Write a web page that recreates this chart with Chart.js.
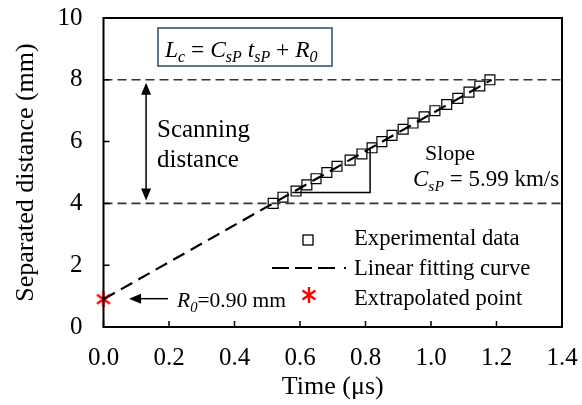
<!DOCTYPE html>
<html>
<head>
<meta charset="utf-8">
<script src="https://cdn.jsdelivr.net/npm/chart.js@4.4.1/dist/chart.umd.min.js"></script>
<style>
  html, body { margin: 0; padding: 0; background: #fff; }
  #wrap { width: 582px; height: 405px; }
</style>
</head>
<body>
<div id="wrap"><canvas id="c" width="582" height="405"></canvas></div>
<script>
// experimental points (time in us, distance in mm)
const expTime = [0.518, 0.548, 0.588, 0.621, 0.649, 0.682, 0.713, 0.753, 0.789, 0.820, 0.850,
                 0.881, 0.915, 0.945, 0.979, 1.012, 1.048, 1.082, 1.116, 1.149, 1.180];
const expDist = [4.0, 4.2, 4.4, 4.6, 4.8, 5.0, 5.2, 5.4, 5.6, 5.8, 6.0,
                 6.2, 6.4, 6.6, 6.8, 7.0, 7.2, 7.4, 7.6, 7.8, 8.0];
// linear fit end points
const fitTime = [0, 1.185];
const fitDist = [0.9, 8.0];
// extrapolated point R0
const extraTime = [0];
const extraDist = [0.9];
// scanning window limits
const scanLimits = [4, 8];
// slope triangle
const triTime = [0.576, 0.814, 0.814];
const triDist = [4.35, 4.35, 5.78];
const xTicks = [0, 0.2, 0.4, 0.6, 0.8, 1.0, 1.2, 1.4];
const yTicks = [0, 2, 4, 6, 8, 10];

const SERIF = '"Liberation Serif", "Times New Roman", serif';

// red asterisk marker
function makeAsterisk() {
  const cv = document.createElement('canvas');
  cv.width = 18; cv.height = 18;
  const g = cv.getContext('2d');
  g.strokeStyle = '#ff0000';
  g.lineWidth = 2.4;
  g.beginPath();
  g.moveTo(9, 1); g.lineTo(9, 17);
  g.moveTo(2.5, 4.5); g.lineTo(15.5, 13.5);
  g.moveTo(15.5, 4.5); g.lineTo(2.5, 13.5);
  g.stroke();
  return cv;
}

function richText(ctx, x, y, parts, size) {
  let cx = x;
  parts.forEach(p => {
    const s = p.sub ? size * 0.68 : size;
    ctx.font = (p.i ? 'italic ' : '') + s + 'px ' + SERIF;
    ctx.fillText(p.t, cx, y + (p.sub ? size * 0.22 : 0));
    cx += ctx.measureText(p.t).width;
  });
}

function arrowHead(ctx, x, y, dir, len, half) {
  ctx.beginPath();
  ctx.moveTo(x, y);
  if (dir === 'up') { ctx.lineTo(x - half, y + len); ctx.lineTo(x + half, y + len); }
  if (dir === 'down') { ctx.lineTo(x - half, y - len); ctx.lineTo(x + half, y - len); }
  if (dir === 'left') { ctx.lineTo(x + len, y - half); ctx.lineTo(x + len, y + half); }
  ctx.closePath();
  ctx.fill();
}

const decor = {
  id: 'decor',
  afterDatasetsDraw(chart) {
    const { ctx, chartArea: a, scales: { x, y } } = chart;
    ctx.save();
    // frame
    ctx.strokeStyle = '#000';
    ctx.lineWidth = 2;
    ctx.strokeRect(a.left, a.top, a.right - a.left, a.bottom - a.top);
    // inward ticks
    ctx.lineWidth = 1.5;
    ctx.beginPath();
    xTicks.forEach(v => {
      const px = x.getPixelForValue(v);
      ctx.moveTo(px, a.bottom); ctx.lineTo(px, a.bottom - 6);
    });
    yTicks.forEach(v => {
      const py = y.getPixelForValue(v);
      ctx.moveTo(a.left, py); ctx.lineTo(a.left + 6, py);
    });
    ctx.stroke();

    ctx.fillStyle = '#000';
    ctx.strokeStyle = '#000';
    // scanning distance arrow
    const sx = x.getPixelForValue(0.13);
    const sTop = y.getPixelForValue(scanLimits[1]) + 3;
    const sBot = y.getPixelForValue(scanLimits[0]) - 3;
    ctx.lineWidth = 1.5;
    ctx.beginPath();
    ctx.moveTo(sx, sTop + 10); ctx.lineTo(sx, sBot - 10);
    ctx.stroke();
    arrowHead(ctx, sx, sTop, 'up', 12, 5);
    arrowHead(ctx, sx, sBot, 'down', 12, 5);

    // R0 arrow
    const ay = y.getPixelForValue(0.9) - 0.5;
    const ax0 = x.getPixelForValue(0.078);
    const ax1 = x.getPixelForValue(0.197);
    ctx.beginPath();
    ctx.moveTo(ax0 + 10, ay); ctx.lineTo(ax1, ay);
    ctx.stroke();
    arrowHead(ctx, ax0, ay, 'left', 12, 5);

    // texts
    ctx.textBaseline = 'alphabetic';
    ctx.textAlign = 'left';
    ctx.font = '25px ' + SERIF;
    ctx.fillText('Scanning', 157, 137);
    ctx.fillText('distance', 157, 167);
    ctx.font = '22px ' + SERIF;
    ctx.fillText('Slope', 425, 160);
    richText(ctx, 413, 186, [
      { t: 'C', i: true }, { t: 'sP', i: true, sub: true }, { t: ' = 5.99 km/s' }
    ], 23);
    richText(ctx, 177, 307, [
      { t: 'R', i: true }, { t: '0', i: true, sub: true }, { t: '=0.90' }, { t: ' mm' }
    ], 21.5);

    // formula box
    ctx.strokeStyle = '#2f4677';
    ctx.lineWidth = 1.5;
    ctx.strokeRect(158, 28, 174, 38);
    ctx.fillStyle = '#000';
    richText(ctx, 165, 57, [
      { t: 'L', i: true }, { t: 'c', i: true, sub: true }, { t: ' = ' },
      { t: 'C', i: true }, { t: 'sP', i: true, sub: true }, { t: ' ' },
      { t: 't', i: true }, { t: 'sP', i: true, sub: true }, { t: ' + ' },
      { t: 'R', i: true }, { t: '0', i: true, sub: true }
    ], 23.5);

    // legend
    ctx.font = '22.7px ' + SERIF;
    ctx.fillStyle = '#000';
    ctx.fillText('Experimental data', 354, 245);
    ctx.fillText('Linear fitting curve', 354, 275);
    ctx.fillText('Extrapolated point', 354, 305);
    ctx.strokeStyle = '#000';
    ctx.lineWidth = 1.3;
    ctx.fillStyle = '#fff';
    ctx.fillRect(303, 235, 10, 10);
    ctx.strokeRect(303, 235, 10, 10);
    ctx.lineWidth = 2;
    ctx.setLineDash([17, 6]);
    ctx.beginPath();
    ctx.moveTo(272, 268); ctx.lineTo(339, 268);
    ctx.stroke();
    ctx.setLineDash([]);
    ctx.fillStyle = '#000';
    ctx.fillRect(344, 267, 2, 2);
    ctx.drawImage(makeAsterisk(), 300, 286);
    ctx.restore();
  }
};

const hLine = v => [{ x: 0, y: v }, { x: 1.4, y: v }];
const noPad = s => { s.paddingTop = 0; s.paddingBottom = 0; s.paddingLeft = 0; s.paddingRight = 0; };

new Chart(document.getElementById('c'), {
  type: 'scatter',
  data: {
    datasets: [
      {
        label: 'Scan bottom',
        type: 'line',
        data: hLine(scanLimits[0]),
        borderColor: '#333',
        borderWidth: 1.6,
        borderDash: [9, 5],
        pointRadius: 0
      },
      {
        label: 'Scan top',
        type: 'line',
        data: hLine(scanLimits[1]),
        borderColor: '#333',
        borderWidth: 1.6,
        borderDash: [9, 5],
        pointRadius: 0
      },
      {
        label: 'Slope triangle',
        type: 'line',
        data: triTime.map((t, i) => ({ x: t, y: triDist[i] })),
        borderColor: '#000',
        borderWidth: 1.5,
        pointRadius: 0
      },
      {
        label: 'Linear fitting curve',
        type: 'line',
        data: fitTime.map((t, i) => ({ x: t, y: fitDist[i] })),
        borderColor: '#000',
        borderWidth: 2.2,
        borderDash: [13, 7],
        pointRadius: 0
      },
      {
        label: 'Experimental data',
        data: expTime.map((t, i) => ({ x: t, y: expDist[i] })),
        pointStyle: 'rect',
        pointRadius: 7,
        pointBackgroundColor: 'rgba(255,255,255,0.85)',
        pointBorderColor: '#000',
        pointBorderWidth: 1.2
      },
      {
        label: 'Extrapolated point',
        data: extraTime.map((t, i) => ({ x: t, y: extraDist[i] })),
        pointStyle: makeAsterisk(),
        pointRadius: 9
      }
    ]
  },
  options: {
    responsive: false,
    animation: false,
    clip: false,
    layout: { padding: { top: 18, right: 20, left: 0, bottom: 0 } },
    plugins: { legend: { display: false }, tooltip: { enabled: false } },
    scales: {
      x: {
        type: 'linear',
        min: 0, max: 1.4,
        afterFit: s => { s.height = 78; noPad(s); },
        afterBuildTicks: s => { s.ticks = xTicks.map(v => ({ value: v })); },
        grid: { display: false, drawTicks: false },
        border: { display: false },
        ticks: {
          padding: 16,
          color: '#000',
          font: { family: SERIF, size: 25 },
          callback: v => v.toFixed(1)
        },
        title: {
          display: true,
          text: 'Time (\u03bcs)',
          color: '#000',
          font: { family: SERIF, size: 26 },
          padding: { top: 2, bottom: 2 }
        }
      },
      y: {
        type: 'linear',
        min: 0, max: 10,
        afterFit: s => { s.width = 103.5; noPad(s); },
        afterBuildTicks: s => { s.ticks = yTicks.map(v => ({ value: v })); },
        grid: { display: false, drawTicks: false },
        border: { display: false },
        ticks: {
          padding: 21,
          color: '#000',
          font: { family: SERIF, size: 25 }
        },
        title: {
          display: true,
          text: 'Separated distance (mm)',
          color: '#000',
          font: { family: SERIF, size: 26 },
          padding: { top: 11, bottom: 11 }
        }
      }
    }
  },
  plugins: [decor]
});
</script>
</body>
</html>
